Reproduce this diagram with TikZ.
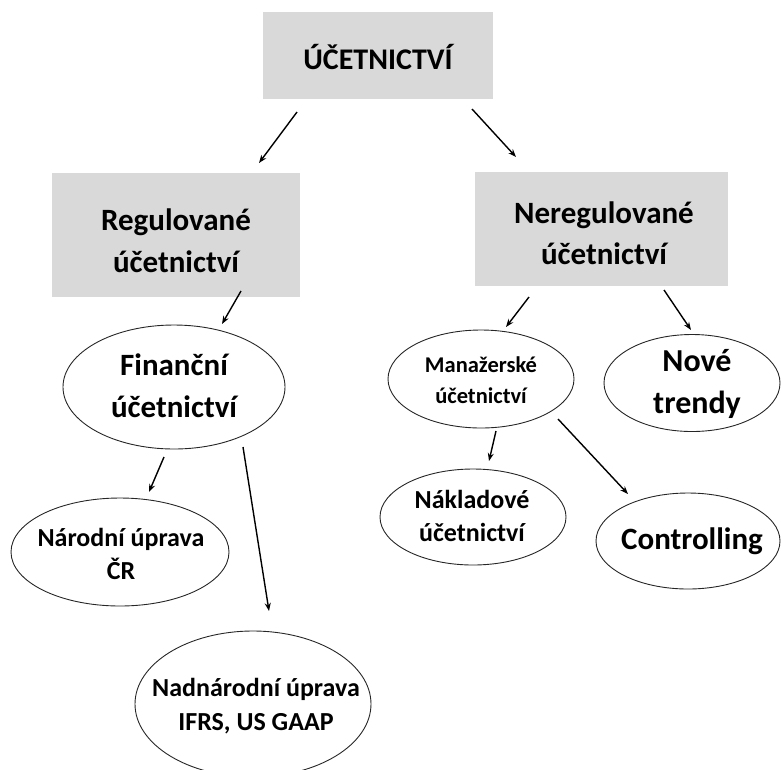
\documentclass[tikz,border=0pt]{standalone}
\usepackage{fontspec}
\setmainfont{Carlito}
\usetikzlibrary{shapes.geometric,arrows.meta}
\definecolor{boxgray}{RGB}{217,217,217}
\tikzset{
  greybox/.style={fill=boxgray, draw=none, inner sep=0pt},
  oval/.style={ellipse, draw=black!85, line width=0.9pt, inner sep=0pt},
  txt/.style={align=center, inner sep=0pt, font=\bfseries},
  arr/.style={-{Stealth[length=8pt,width=6pt]}, line width=1.4pt, black}
}
\newcommand{\fs}[2]{\fontsize{#1}{#2}\selectfont}
\begin{document}
\begin{tikzpicture}[x=1pt,y=-1pt]
\useasboundingbox (0,0) rectangle (781,769);
\clip (0,0) rectangle (781,769);
% boxes
\node[greybox, minimum width=230pt, minimum height=87pt] (top) at (378,55.5) {};
\node[txt, font=\bfseries\fs{30}{40}] (topT) at (378,57) {ÚČETNICTVÍ};
\node[greybox, minimum width=248pt, minimum height=124pt] (reg) at (176,235) {};
\node[txt, font=\bfseries\fs{31}{42}] (regT) at (176,241) {Regulované\\účetnictví};
\node[greybox, minimum width=253pt, minimum height=114pt] (nereg) at (601.5,229) {};
\node[txt, font=\bfseries\fs{31}{41}] (neregT) at (604,233) {Neregulované\\účetnictví};
% ellipses
\node[oval, minimum width=222pt, minimum height=124pt] (fin) at (174,387) {};
\node[txt, font=\bfseries\fs{31}{42}] (finT) at (174,386) {Finanční\\účetnictví};
\node[oval, minimum width=186pt, minimum height=98pt] (man) at (481,379) {};
\node[txt, font=\bfseries\fs{22.5}{31}] (manT) at (481,380) {Manažerské\\účetnictví};
\node[oval, minimum width=176pt, minimum height=97pt] (nove) at (692,383) {};
\node[txt, font=\bfseries\fs{32}{42}] (noveT) at (697,384) {Nové\\trendy};
\node[oval, minimum width=186pt, minimum height=96pt] (nak) at (473,517) {};
\node[txt, font=\bfseries\fs{26}{33}] (nakT) at (472,516) {Nákladové\\účetnictví};
\node[oval, minimum width=184pt, minimum height=96pt] (con) at (688,541) {};
\node[txt, font=\bfseries\fs{31}{40}] (conT) at (692,541) {Controlling};
\node[oval, minimum width=218pt, minimum height=108pt] (nar) at (120,552) {};
\node[txt, font=\bfseries\fs{26}{33}] (narT) at (121,554) {Národní úprava\\ČR};
\node[oval, minimum width=236pt, minimum height=146pt] (nad) at (253,704) {};
\node[txt, font=\bfseries\fs{26}{34}] (nadT) at (256,706) {Nadnárodní úprava\\IFRS, US GAAP};
% arrow end points
\coordinate (a1s) at (297,112); \coordinate (a1e) at (259,163);
\coordinate (a2s) at (472,109); \coordinate (a2e) at (516,157);
\coordinate (a3s) at (241,291); \coordinate (a3e) at (222,324);
\coordinate (a4s) at (529,297); \coordinate (a4e) at (506,327);
\coordinate (a5s) at (664,290); \coordinate (a5e) at (691,330);
\coordinate (a6s) at (164,457); \coordinate (a6e) at (149,492);
\coordinate (a7s) at (243,447); \coordinate (a7e) at (269,611);
\coordinate (a8s) at (496,431); \coordinate (a8e) at (489,461);
\coordinate (a9s) at (558,419); \coordinate (a9e) at (628,494);
\draw[arr] (a1s) -- (a1e);
\draw[arr] (a2s) -- (a2e);
\draw[arr] (a3s) -- (a3e);
\draw[arr] (a4s) -- (a4e);
\draw[arr] (a5s) -- (a5e);
\draw[arr] (a6s) -- (a6e);
\draw[arr] (a7s) -- (a7e);
\draw[arr] (a8s) -- (a8e);
\draw[arr] (a9s) -- (a9e);
\end{tikzpicture}
\end{document}
